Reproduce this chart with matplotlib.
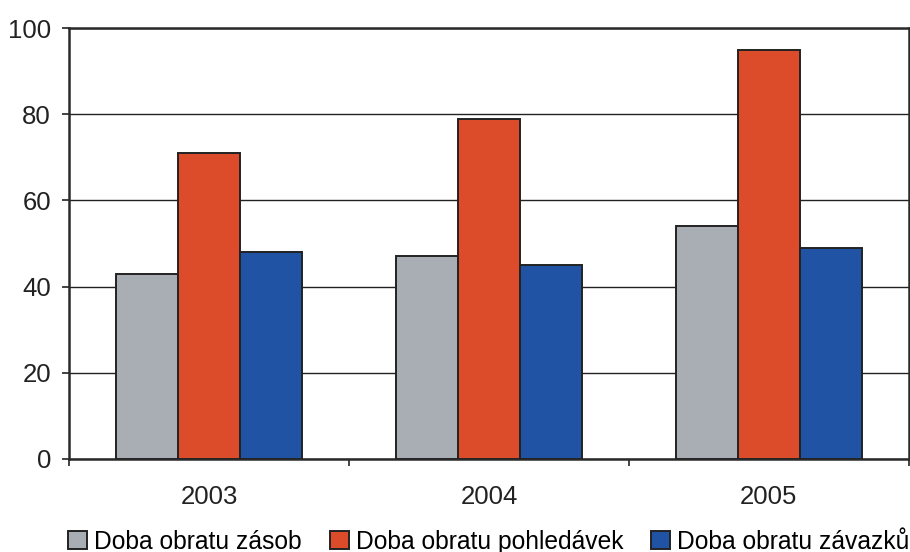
import numpy as np
import matplotlib
matplotlib.use('Agg')
import matplotlib.pyplot as plt
from matplotlib.ticker import FixedLocator

plt.rcParams['font.family'] = ['Liberation Sans', 'DejaVu Sans']

years = ['2003', '2004', '2005']
series = ['Doba obratu zásob', 'Doba obratu pohledávek', 'Doba obratu závazků']
zasoby = [43, 47, 54]
pohledavky = [71, 79, 95]
zavazky = [48, 45, 49]
colors = ['#A9AEB4', '#DC4C2B', '#2153A4']

fig = plt.figure(figsize=(9.10, 5.52), dpi=100)
ax = fig.add_axes([0.0758, 0.1685, 0.923, 0.7805])

x = np.arange(len(years))
w = 0.2214
for i, (vals, c, lab) in enumerate(zip([zasoby, pohledavky, zavazky], colors, series)):
    ax.bar(x + (i - 1) * w, vals, w, color=c, edgecolor='#222222', linewidth=1.4,
           label=lab, zorder=3)

ax.set_xlim(-0.5, 2.5)
ax.set_ylim(0, 100)
ax.set_yticks(range(0, 101, 20))
ax.grid(axis='y', color='#222222', linewidth=1.0, zorder=0)

ax.set_xticks(x)
ax.set_xticklabels(years)
ax.xaxis.set_minor_locator(FixedLocator([-0.5, 0.5, 1.5, 2.5]))
ax.tick_params(axis='x', which='major', length=0, pad=19, labelsize=18.5, colors='#222222')
ax.tick_params(axis='x', which='minor', length=5, width=1.2, color='#222222')
ax.tick_params(axis='y', length=5, width=1.2, labelsize=18.5, colors='#222222', pad=8)

for s in ax.spines.values():
    s.set_color('#2a2a2a')
    s.set_linewidth(1.8)

fig.legend(loc='lower center', bbox_to_anchor=(0.537, -0.03), ncol=3, frameon=False,
           fontsize=17.7, handlelength=0.78, handleheight=0.78, handletextpad=0.28,
           columnspacing=1.12, borderaxespad=0.2)

plt.savefig('out.png', dpi=100)
plt.close()
